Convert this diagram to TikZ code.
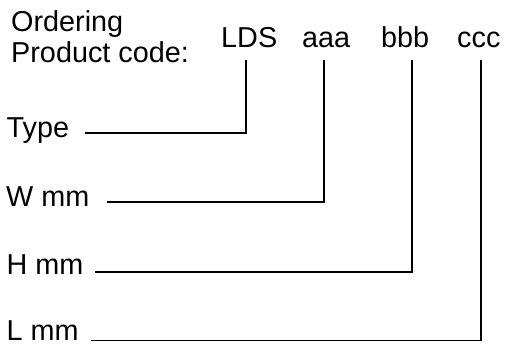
\documentclass[tikz,border=0pt]{standalone}
\usepackage{fontspec}
\setmainfont{Liberation Sans}
\begin{document}
\begin{tikzpicture}[x=1pt,y=1pt,
  lbl/.style={anchor=base west,inner sep=0pt,font=\fontsize{28.8}{31}\selectfont},
  conn/.style={line width=1.5pt,line join=miter}]
\useasboundingbox (0,0) rectangle (506,345);
\node[lbl] (ord) at (11,313) {Ordering};
\node[lbl] (pc) at (11,282) {Product code:};
\node[lbl] (lds) at (221,297) {LDS};
\node[lbl] (aaa) at (302,297) {aaa};
\node[lbl] (bbb) at (381,297) {bbb};
\node[lbl] (ccc) at (457,297) {ccc};
\node[lbl] (type) at (6.5,207) {Type};
\node[lbl] (wmm) at (6,138) {W mm};
\node[lbl] (hmm) at (6.5,70) {H mm};
\node[lbl] (lmm) at (6.5,4) {L mm};
\coordinate (vl) at (246,285);
\coordinate (va) at (324,285);
\coordinate (vb) at (412,285);
\coordinate (vc) at (481,285);
\coordinate (st) at (85,212);
\coordinate (sw) at (107,143);
\coordinate (sh) at (95,73);
\coordinate (sl) at (91,4.5);
\draw[conn] (st) -| (vl);
\draw[conn] (sw) -| (va);
\draw[conn] (sh) -| (vb);
\draw[conn] (sl) -| (vc);
\end{tikzpicture}
\end{document}
